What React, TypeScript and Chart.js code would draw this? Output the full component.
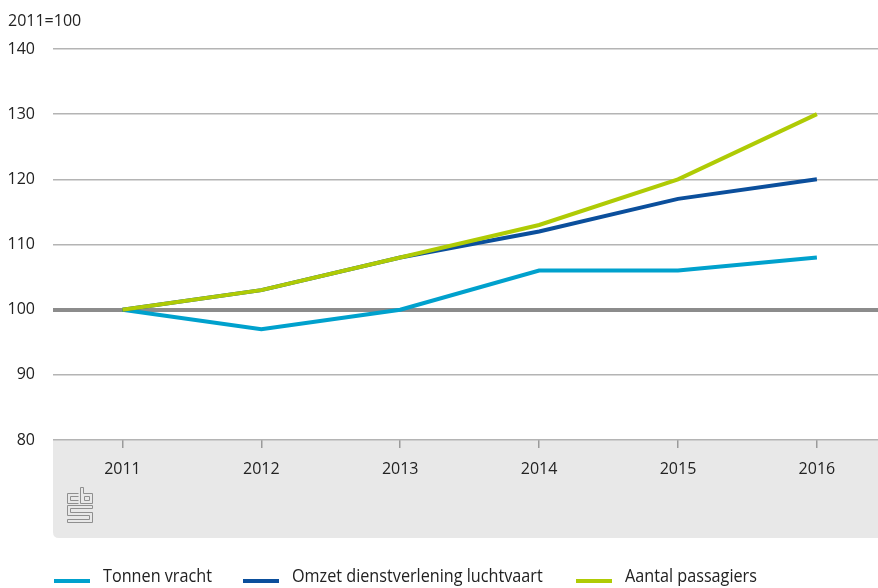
import React, { useEffect, useRef } from "react";
import { Chart, registerables } from "chart.js";

Chart.register(...registerables);

const years = [2011, 2012, 2013, 2014, 2015, 2016];
const tonnenVracht = [100, 97, 100, 106, 106, 108];
const omzetDienstverlening = [100, 103, 108, 112, 117, 120];
const aantalPassagiers = [100, 103, 108, 113, 120, 130];
const seriesLabels = ["Tonnen vracht", "Omzet dienstverlening luchtvaart", "Aantal passagiers"];
const seriesColors = ["#00a1cd", "#0b4f9c", "#afcb05"];
const yTicks = [80, 90, 100, 110, 120, 130, 140];
const unitLabel = "2011=100";

const W = 878;
const H = 588;
const FONT = "'Open Sans', 'DejaVu Sans', sans-serif";
const LEGEND_FONT = "'Open Sans', sans-serif";
const legendX = [54, 243, 576];

const decorPlugin = {
  id: "decor",
  beforeDraw(chart: any) {
    const { ctx, chartArea } = chart;
    const left = chartArea.left;
    const top = chartArea.bottom;
    const right = W;
    const bottom = 538;
    const r = 6;
    ctx.save();
    ctx.fillStyle = "#e8e8e8";
    ctx.beginPath();
    ctx.moveTo(left, top);
    ctx.lineTo(right, top);
    ctx.lineTo(right, bottom);
    ctx.lineTo(left + r, bottom);
    ctx.quadraticCurveTo(left, bottom, left, bottom - r);
    ctx.closePath();
    ctx.fill();

    // cbs logo
    ctx.strokeStyle = "#8f8f8f";
    ctx.lineWidth = 1;
    const lx = 67.5, ly = 487.5;
    ctx.beginPath();
    // c
    ctx.moveTo(lx + 11, ly + 6);
    ctx.lineTo(lx, ly + 6);
    ctx.lineTo(lx, ly + 16);
    ctx.lineTo(lx + 11, ly + 16);
    ctx.moveTo(lx + 11, ly + 9);
    ctx.lineTo(lx + 3, ly + 9);
    ctx.lineTo(lx + 3, ly + 13);
    ctx.lineTo(lx + 11, ly + 13);
    // b
    ctx.moveTo(lx + 13, ly);
    ctx.lineTo(lx + 13, ly + 16);
    ctx.lineTo(lx + 25, ly + 16);
    ctx.lineTo(lx + 25, ly + 6);
    ctx.lineTo(lx + 16, ly + 6);
    ctx.lineTo(lx + 16, ly);
    ctx.closePath();
    ctx.rect(lx + 17, ly + 9, 5, 4);
    // s
    ctx.moveTo(lx + 25, ly + 18);
    ctx.lineTo(lx, ly + 18);
    ctx.lineTo(lx, ly + 28);
    ctx.lineTo(lx + 22, ly + 28);
    ctx.lineTo(lx + 22, ly + 32);
    ctx.lineTo(lx, ly + 32);
    ctx.lineTo(lx, ly + 35);
    ctx.lineTo(lx + 25, ly + 35);
    ctx.lineTo(lx + 25, ly + 25);
    ctx.lineTo(lx + 3, ly + 25);
    ctx.lineTo(lx + 3, ly + 21);
    ctx.lineTo(lx + 25, ly + 21);
    ctx.closePath();
    ctx.stroke();

    // unit label
    ctx.fillStyle = "#222";
    ctx.font = `16px ${FONT}`;
    ctx.textBaseline = "middle";
    ctx.textAlign = "left";
    ctx.fillText(unitLabel, 8, 21);
    ctx.restore();
  },
  afterDraw(chart: any) {
    const { ctx } = chart;
    chart.data.datasets.forEach((ds: any, i: number) => {
      const x = legendX[i];
      ctx.save();
      ctx.fillStyle = ds.borderColor;
      ctx.fillRect(x, 579, 36, 4);
      ctx.translate(x + 49, 577);
      ctx.scale(0.9, 1);
      ctx.font = `18px ${LEGEND_FONT}`;
      ctx.textBaseline = "middle";
      ctx.textAlign = "left";
      ctx.fillStyle = "#222";
      ctx.fillText(ds.label, 0, 0);
      ctx.restore();
    });
  },
};

export default function App() {
  const ref = useRef<HTMLCanvasElement>(null);
  useEffect(() => {
    const canvas = ref.current!;
    const series = [tonnenVracht, omzetDienstverlening, aantalPassagiers];
    const chart = new Chart(canvas, {
      type: "line",
      data: {
        datasets: series.map((vals, i) => ({
          label: seriesLabels[i],
          data: years.map((y, j) => ({ x: y, y: vals[j] })),
          borderColor: seriesColors[i],
          backgroundColor: seriesColors[i],
          borderWidth: 4,
          pointRadius: 0,
          tension: 0,
          order: 2 - i,
        })),
      },
      options: {
        animation: false,
        responsive: false,
        events: [],
        layout: { padding: { top: 49, right: 0, left: 0, bottom: 0 } },
        plugins: { legend: { display: false }, tooltip: { enabled: false } },
        scales: {
          x: {
            type: "linear",
            min: 2010.5,
            max: 2016.44,
            afterBuildTicks: (scale: any) => {
              scale.ticks = years.map((v) => ({ value: v }));
            },
            afterFit: (scale: any) => {
              scale.height = 148;
            },
            border: { display: false },
            grid: {
              drawOnChartArea: false,
              drawTicks: true,
              tickLength: 8,
              color: "#9a9a9a",
              lineWidth: 1.5,
            },
            ticks: {
              autoSkip: false,
              maxRotation: 0,
              padding: 12,
              color: "#222",
              font: { family: FONT, size: 16 },
              callback: (v: any) => String(v),
            },
          },
          y: {
            min: 80,
            max: 140,
            afterBuildTicks: (scale: any) => {
              scale.ticks = yTicks.map((v) => ({ value: v }));
            },
            afterFit: (scale: any) => {
              scale.width = 53;
            },
            border: { display: false },
            grid: {
              drawTicks: false,
              color: (c: any) => (c.tick && c.tick.value === 100 ? "#8c8c8c" : "#b4b4b4"),
              lineWidth: (c: any) => (c.tick && c.tick.value === 100 ? 4 : 1.5),
            },
            ticks: {
              padding: 18,
              color: "#222",
              font: { family: FONT, size: 16 },
            },
          },
        },
      },
      plugins: [decorPlugin],
    });
    return () => chart.destroy();
  }, []);
  return (
    <div style={{ position: "absolute", left: 0, top: 0, width: W, height: H, background: "#fff" }}>
      <canvas ref={ref} width={W} height={H} style={{ width: W, height: H, display: "block" }} />
    </div>
  );
}
